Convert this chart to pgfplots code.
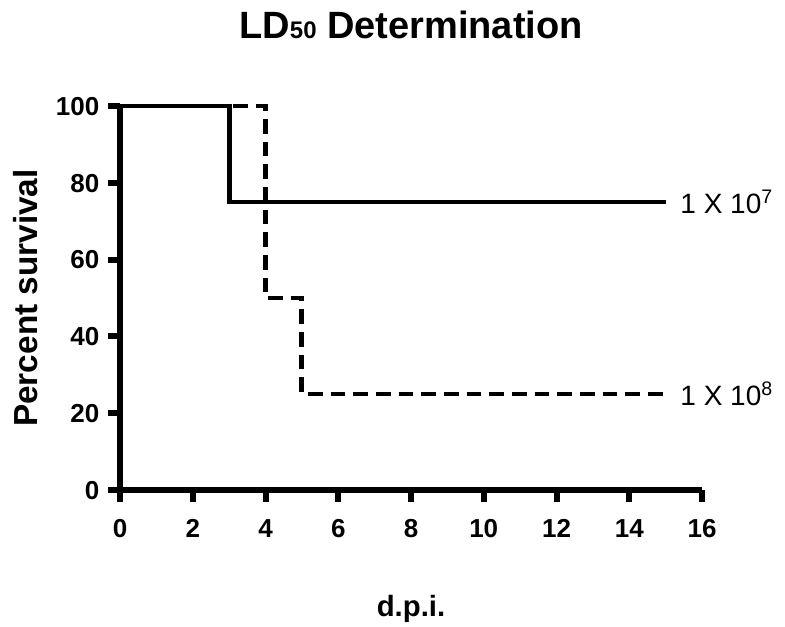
\documentclass[border=0pt]{standalone}
\usepackage{pgfplots}
\pgfplotsset{compat=1.18}
\usepackage{fontspec}
\setmainfont{Liberation Sans}
\begin{document}
\begin{tikzpicture}
\path[use as bounding box] (-90pt,-102.75pt) rectangle (498.75pt,367.5pt);
\begin{axis}[
  at={(0,0)}, anchor=south west,
  scale only axis, width=436.5pt, height=288pt,
  xmin=0, xmax=16, ymin=0, ymax=100,
  axis x line=bottom, axis y line=left,
  axis line style={line width=4.5pt, -},
  xtick={0,2,...,16}, ytick={0,20,...,100},
  tick align=outside, major tick length=9pt,
  tick style={line width=4.5pt, black},
  /pgf/number format/assume math mode=true,
  ticklabel style={font=\fontsize{19.5}{19.5}\selectfont\bfseries, text height=14pt, text depth=0pt},
  xticklabel style={anchor=north, yshift=-9pt},
  yticklabel style={xshift=-3pt},
  title={LD{\fontsize{18}{18}\selectfont 50} Determination},
  title style={at={(axis description cs:0.5,1.156)}, anchor=base, font=\fontsize{28.5}{28.5}\selectfont\bfseries},
  xlabel={d.p.i.},
  xlabel style={at={(axis description cs:0.5,-0.33)}, anchor=base, font=\fontsize{22}{22}\selectfont\bfseries},
  ylabel={Percent survival},
  ylabel style={at={(axis description cs:-0.163,0.5)}, anchor=center, font=\fontsize{25}{25}\selectfont\bfseries},
  clip=false,
]
\addplot[black, line width=3.7pt, dash pattern=on 11pt off 6pt, const plot] coordinates {(0,100) (4,50) (5,25) (15,25)};
\addplot[black, line width=3.7pt, const plot] coordinates {(0,100) (3,75) (15,75)};
\node[anchor=west, inner sep=0pt, font=\fontsize{21}{21}\selectfont] at (axis cs:15.4,75) {1 X 10\textsuperscript{7}};
\node[anchor=west, inner sep=0pt, font=\fontsize{21}{21}\selectfont] at (axis cs:15.4,25) {1 X 10\textsuperscript{8}};
\end{axis}
\end{tikzpicture}
\end{document}
